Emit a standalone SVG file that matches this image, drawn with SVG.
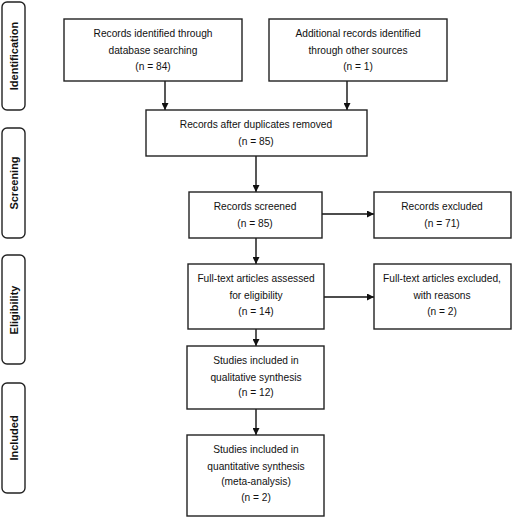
<svg xmlns="http://www.w3.org/2000/svg" width="512" height="518" viewBox="0 0 512 518">
<style>
.box{fill:#fff;stroke:#222;stroke-width:1.4}
.side{fill:#fff;stroke:#222;stroke-width:1.4}
.t{font-family:"Liberation Sans",Arial,sans-serif;font-size:10.2px;fill:#111;text-anchor:middle}
.s{font-family:"Liberation Sans",Arial,sans-serif;font-size:11px;font-weight:bold;fill:#111;text-anchor:middle}
.c{stroke:#111;stroke-width:1.4;fill:none;marker-end:url(#ah)}
</style>
<defs>
<marker id="ah" viewBox="0 0 10 10" refX="10" refY="5" markerWidth="7" markerHeight="7" markerUnits="userSpaceOnUse" orient="auto">
<path d="M0,0 L10,5 L0,10 z" fill="#111"/>
</marker>
</defs>
<rect width="512" height="518" fill="#fff"/>
<g id="phase-identification"><rect class="side" x="2" y="2" width="23" height="108" rx="5"/><text class="s" transform="translate(17.5,56) rotate(-90)">Identification</text></g>
<g id="phase-screening"><rect class="side" x="2" y="128" width="23" height="110" rx="5"/><text class="s" transform="translate(17.5,183) rotate(-90)">Screening</text></g>
<g id="phase-eligibility"><rect class="side" x="2" y="255" width="23" height="109" rx="5"/><text class="s" transform="translate(17.5,310) rotate(-90)">Eligibility</text></g>
<g id="phase-included"><rect class="side" x="2" y="383" width="23" height="110" rx="5"/><text class="s" transform="translate(17.5,438) rotate(-90)">Included</text></g>
<g id="connectors">
<line class="c" x1="165" y1="81" x2="165" y2="110"/>
<line class="c" x1="347" y1="81" x2="347" y2="110"/>
<line class="c" x1="256" y1="156" x2="256" y2="192"/>
<line class="c" x1="322" y1="214" x2="374" y2="214"/>
<line class="c" x1="256" y1="238" x2="256" y2="264"/>
<line class="c" x1="324" y1="297" x2="374" y2="297"/>
<line class="c" x1="256" y1="329" x2="256" y2="346"/>
<line class="c" x1="256" y1="409" x2="256" y2="435"/>
</g>
<g id="n-db"><rect class="box" x="64" y="19" width="178" height="62"/><text class="t" x="153" y="37">Records identified through</text><text class="t" x="153" y="54">database searching</text><text class="t" x="153" y="70">(n = 84)</text></g>
<g id="n-other"><rect class="box" x="269" y="19" width="178" height="62"/><text class="t" x="358" y="37">Additional records identified</text><text class="t" x="358" y="54">through other sources</text><text class="t" x="358" y="70">(n = 1)</text></g>
<g id="n-dup"><rect class="box" x="146" y="110" width="221" height="46"/><text class="t" x="256" y="128">Records after duplicates removed</text><text class="t" x="256" y="145">(n = 85)</text></g>
<g id="n-screened"><rect class="box" x="189" y="192" width="133" height="46"/><text class="t" x="255" y="210">Records screened</text><text class="t" x="255" y="227">(n = 85)</text></g>
<g id="n-excluded"><rect class="box" x="374" y="192" width="137" height="46"/><text class="t" x="442" y="210">Records excluded</text><text class="t" x="442" y="227">(n = 71)</text></g>
<g id="n-fulltext"><rect class="box" x="188" y="264" width="136" height="65"/><text class="t" x="256" y="282">Full-text articles assessed</text><text class="t" x="256" y="299">for eligibility</text><text class="t" x="256" y="315">(n = 14)</text></g>
<g id="n-ftexcluded"><rect class="box" x="374" y="264" width="137" height="65"/><text class="t" x="442" y="282">Full-text articles excluded,</text><text class="t" x="442" y="299">with reasons</text><text class="t" x="442" y="315">(n = 2)</text></g>
<g id="n-qual"><rect class="box" x="187" y="346" width="137" height="63"/><text class="t" x="256" y="364">Studies included in</text><text class="t" x="256" y="381">qualitative synthesis</text><text class="t" x="256" y="396">(n = 12)</text></g>
<g id="n-quant"><rect class="box" x="187" y="435" width="137" height="81"/><text class="t" x="256" y="453">Studies included in</text><text class="t" x="256" y="470">quantitative synthesis</text><text class="t" x="256" y="485">(meta-analysis)</text><text class="t" x="256" y="501">(n = 2)</text></g>
</svg>
